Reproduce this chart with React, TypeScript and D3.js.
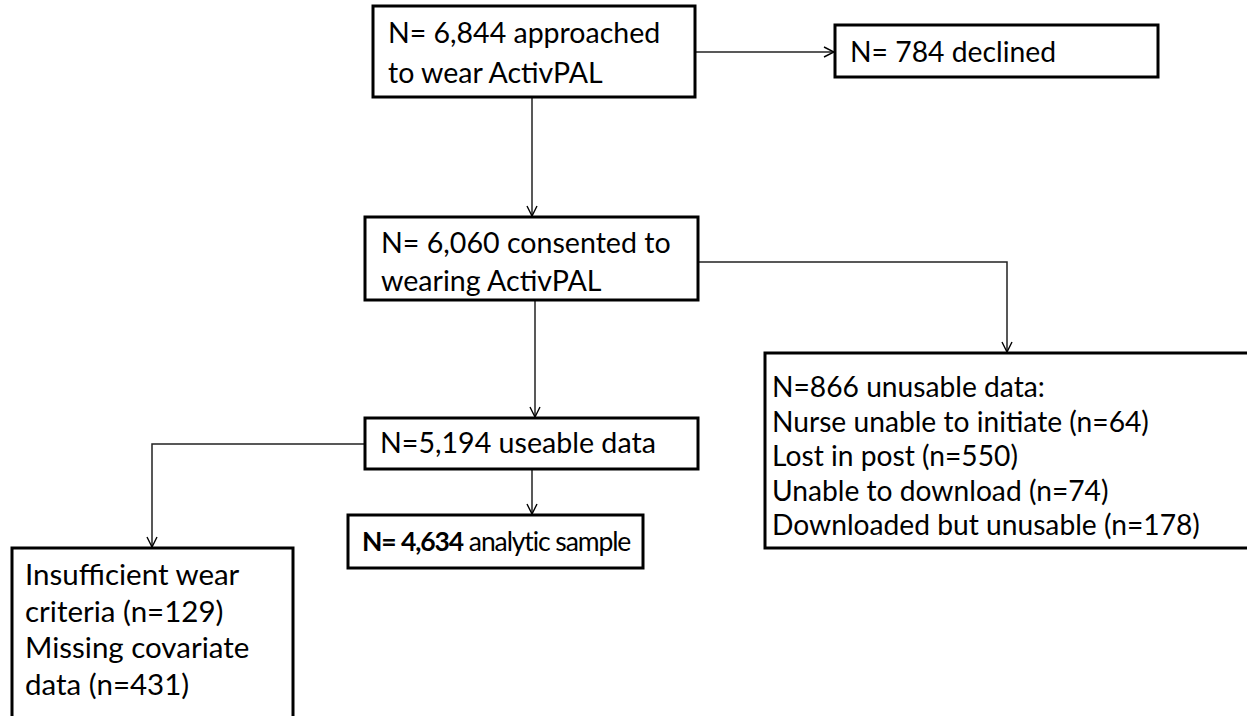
import * as d3 from 'd3';
import { type FC } from 'react';

// box texts
const approachedLines = ['N= 6,844 approached', 'to wear ActivPAL'];
const declinedLines = ['N= 784 declined'];
const consentedLines = ['N= 6,060 consented to', 'wearing ActivPAL'];
const unusableLines = [
	'N=866 unusable data:',
	'Nurse unable to initiate (n=64)',
	'Lost in post (n=550)',
	'Unable to download (n=74)',
	'Downloaded but unusable (n=178)',
];
const useableLines = ['N=5,194 useable data'];
const excludedLines = ['Insufficient wear', 'criteria (n=129)', 'Missing covariate', 'data (n=431)'];
const analyticBold = 'N= 4,634';
const analyticRest = ' analytic sample';

const W = 1247;
const H = 716;
const FONT = 'Lato, "Open Sans", sans-serif';

// layout of the boxes (pixels)
const layout = {
	approached: { x: 373, y: 6, w: 322, h: 91, tx: 15, ty: 37, lh: 40, fs: 28.5 },
	declined: { x: 835, y: 25, w: 323, h: 52, tx: 15, ty: 37, lh: 40, fs: 28.3 },
	consented: { x: 365, y: 217, w: 333, h: 83, tx: 16, ty: 36, lh: 38, fs: 28.6 },
	unusable: { x: 765, y: 353, w: 500, h: 195, tx: 7, ty: 44, lh: 34.5, fs: 28.2 },
	useable: { x: 365, y: 418, w: 333, h: 51, tx: 15, ty: 35, lh: 38, fs: 28.6 },
	analytic: { x: 348, y: 515, w: 295, h: 53, tx: 14, ty: 36, lh: 38, fs: 26.5 },
	excluded: { x: 12, y: 548, w: 281, h: 220, tx: 13, ty: 37, lh: 36.7, fs: 29.5 },
};

type Pt = [number, number];
const connectors: { pts: Pt[]; arrow: boolean }[] = [
	{ pts: [[532, 97], [532, 216]], arrow: true },
	{ pts: [[695, 52], [834, 52]], arrow: true },
	{ pts: [[698, 262], [1007, 262], [1007, 352]], arrow: true },
	{ pts: [[535, 300], [535, 417]], arrow: true },
	{ pts: [[365, 444], [152, 444], [152, 547]], arrow: true },
	{ pts: [[532, 469], [532, 514]], arrow: true },
];

const lineGen = d3.line<Pt>().x((d) => d[0]).y((d) => d[1]);

const Box: FC<{ b: (typeof layout)['approached']; lines: string[] }> = ({ b, lines }) => (
	<g transform={`translate(${b.x},${b.y})`}>
		<rect width={b.w} height={b.h} fill="#fff" stroke="#000" strokeWidth={3} />
		{lines.map((l, i) => (
			<text key={i} x={b.tx} y={b.ty + i * b.lh} fontSize={b.fs} fontFamily={FONT} fill="#000">
				{l}
			</text>
		))}
	</g>
);

export default function App() {
	const a = layout.analytic;
	return (
		<svg
			width={W}
			height={H}
			viewBox={`0 0 ${W} ${H}`}
			style={{ position: 'absolute', left: 0, top: 0, background: '#fff' }}
		>
			<defs>
				<marker
					id="arr"
					viewBox="0 0 12 12"
					refX={11}
					refY={6}
					markerWidth={12}
					markerHeight={12}
					markerUnits="userSpaceOnUse"
					orient="auto"
				>
					<path d="M1,1 L11,6 L1,11" fill="none" stroke="#000" strokeWidth={1.4} />
				</marker>
			</defs>
			{connectors.map((c, i) => (
				<path
					key={i}
					d={lineGen(c.pts) ?? ''}
					fill="none"
					stroke="#222"
					strokeWidth={1.5}
					markerEnd={c.arrow ? 'url(#arr)' : undefined}
				/>
			))}
			<Box b={layout.approached} lines={approachedLines} />
			<Box b={layout.declined} lines={declinedLines} />
			<Box b={layout.consented} lines={consentedLines} />
			<Box b={layout.unusable} lines={unusableLines} />
			<Box b={layout.useable} lines={useableLines} />
			<Box b={layout.excluded} lines={excludedLines} />
			<g transform={`translate(${a.x},${a.y})`}>
				<rect width={a.w} height={a.h} fill="#fff" stroke="#000" strokeWidth={3} />
				<text
					x={a.tx}
					y={a.ty}
					fontSize={a.fs}
					fontFamily={FONT}
					fill="#000"
					letterSpacing={-1.1}
				>
					<tspan fontWeight="bold">{analyticBold}</tspan>
					<tspan>{analyticRest}</tspan>
				</text>
			</g>
		</svg>
	);
}
